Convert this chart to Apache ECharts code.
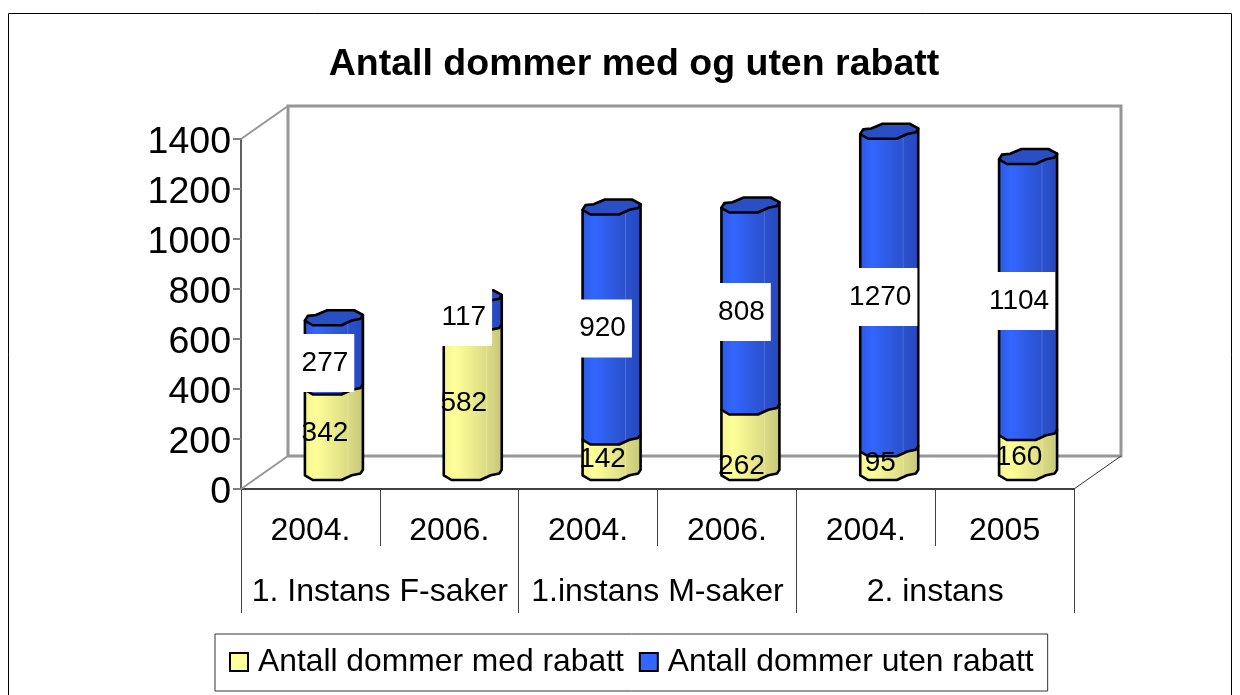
<!DOCTYPE html>
<html><head><meta charset="utf-8">
<style>html,body{margin:0;padding:0;background:#fff}#c{width:1240px;height:695px}</style>
<script src="https://cdn.jsdelivr.net/npm/echarts@6/dist/echarts.min.js"></script>
</head><body><div id="c"></div>
<script>
const years = ['2004.', '2006.', '2004.', '2006.', '2004.', '2005'];
const groups = ['1. Instans F-saker', '1.instans M-saker', '2. instans'];
const withDiscount = [342, 582, 142, 262, 95, 160];
const withoutDiscount = [277, 117, 920, 808, 1270, 1104];
const nameWith = 'Antall dommer med rabatt';
const nameWithout = 'Antall dommer uten rabatt';
const titleText = 'Antall dommer med og uten rabatt';

const FONT = '"Liberation Sans", Arial, sans-serif';
const DEPTH_X = 47, DEPTH_Y = -33;      // pseudo-3D depth of the chart box
const BAR_HALF_W = 29, BAR_HALF_H = 7.5;
const labelShift = {                     // pixel nudges of the data labels from the bar middle
  with: [-13, -13, -12, 10, -14, -12],
  without: [-6, -12, -10, -10.5, -9.5, -10]
};
const capShape = [[-1,.37],[-.9,-.25],[-.62,-.37],[-.23,-1],[.7,-1],[1,-.37],[.92,.12],[.62,.37],[.26,1],[-.73,1]];
const frontEdge = [[-1,.37],[-.73,1],[.26,1],[.62,.37],[.92,.12],[1,-.37]];

const G = echarts.graphic;
const yellowFill = new G.LinearGradient(0,0,1,0,[
  {offset:0,color:'#F2F28F'},{offset:.2,color:'#FFFF99'},{offset:.5,color:'#EBEB8D'},
  {offset:.75,color:'#DADA85'},{offset:1,color:'#C5C57A'}]);
const blueFill = new G.LinearGradient(0,0,1,0,[
  {offset:0,color:'#2C58DC'},{offset:.22,color:'#3366FF'},{offset:.55,color:'#2D58DC'},
  {offset:1,color:'#2647BC'}]);
const capColor = '#2A4EC4';

function cylinder(fill, lightLine, withCap) {
  return function (params, api) {
    const i = api.value(0);
    const a = api.coord([i, api.value(1)]);
    const b = api.coord([i, api.value(2)]);
    const cx = a[0] + DEPTH_X / 2, yBase = a[1] + DEPTH_Y / 2, yTop = b[1] + DEPTH_Y / 2;
    const P = (p, y) => [cx + p[0] * BAR_HALF_W, y + p[1] * BAR_HALF_H];
    const body = frontEdge.map(p => P(p, yBase));
    body.push(P([1, -.37], yTop), P([-1, .37], yTop));
    const kids = [
      {type:'polygon', shape:{points:body}, style:{fill:fill, stroke:'#000', lineWidth:2.6, lineJoin:'round'}},
      {type:'line', shape:{x1:cx+.48*BAR_HALF_W,y1:yTop+BAR_HALF_H*.5,x2:cx+.48*BAR_HALF_W,y2:yBase+BAR_HALF_H*.4},
       style:{stroke:lightLine, lineWidth:1, opacity:.6}}
    ];
    if (withCap) kids.push({type:'polygon', shape:{points:capShape.map(p => P(p, yTop))},
      style:{fill:capColor, stroke:'#000', lineWidth:2.6, lineJoin:'round'}});
    return {type:'group', children:kids};
  };
}
function wallItem(params, api) {
  const c = params.coordSys, x = c.x, y = c.y, w = c.width, h = c.height;
  const grey = {stroke:'#969696', lineWidth:3, fill:null};
  const L = (x1,y1,x2,y2,s) => ({type:'line', shape:{x1,y1,x2,y2}, style:s});
  return {type:'group', children:[
    {type:'polyline', shape:{points:[[x+DEPTH_X,y+h+DEPTH_Y],[x+DEPTH_X,y+DEPTH_Y],[x+w+DEPTH_X,y+DEPTH_Y],[x+w+DEPTH_X,y+h+DEPTH_Y],[x+DEPTH_X,y+h+DEPTH_Y]]}, style:grey},
    L(x,y,x+DEPTH_X,y+DEPTH_Y,{stroke:'#969696',lineWidth:2}),
    L(x,y+h,x+DEPTH_X,y+h+DEPTH_Y,{stroke:'#969696',lineWidth:2}),
    L(x+w,y+h,x+w+DEPTH_X,y+h+DEPTH_Y,{stroke:'#333',lineWidth:1})
  ]};
}
function labelItem(params, api) {
  const i = api.value(0);
  const a = api.coord([i, (api.value(1) + api.value(2)) / 2]);
  const boxed = api.value(3) === 1;
  const shift = (boxed ? labelShift.without : labelShift.with)[i];
  return {type:'text', x:a[0]+14.5, y:a[1]+shift, z2:100, style:{
    text:String(api.value(2)-api.value(1)), font:'28px '+FONT, fill:'#000',
    align:'center', verticalAlign:'middle',
    backgroundColor: boxed ? '#fff' : null,
    padding: boxed ? [15,6,15,6] : 0
  }};
}
const rowsWith = withDiscount.map((v,i)=>[i,0,v]);
const rowsWithout = withoutDiscount.map((v,i)=>[i,withDiscount[i],withDiscount[i]+v]);
const labelRows = rowsWith.map(r=>[...r,0]).concat(rowsWithout.map(r=>[...r,1]));
const chart = echarts.init(document.getElementById('c'), null, {renderer:'canvas'});
chart.setOption({
  animation:false,
  backgroundColor:'#fff',
  textStyle:{fontFamily:FONT},
  title:{text:titleText,left:629,top:41,textAlign:'center',
    textStyle:{fontFamily:FONT,fontWeight:'bold',fontSize:37.5,color:'#000'}},
  legend:{left:215,top:634,padding:[12,14,13,14],itemWidth:18,itemHeight:18,itemGap:15,
    borderColor:'#333',borderWidth:1,borderRadius:0,icon:'rect',
    data:[nameWith,nameWithout],
    itemStyle:{borderColor:'#000',borderWidth:2},
    textStyle:{fontFamily:FONT,fontSize:31.8,color:'#000',padding:[2,0,0,5]}},
  grid:{left:241,right:166,top:139,bottom:206,containLabel:false},
  xAxis:[
    {type:'category',data:years,position:'bottom',
     axisLine:{lineStyle:{color:'#404040',width:2}},
     axisTick:{show:true,length:57,lineStyle:{color:'#404040',width:1}},
     axisLabel:{color:'#000',fontSize:32,margin:26,fontFamily:FONT,interval:0}},
    {type:'category',data:groups,position:'bottom',
     axisLine:{show:false},
     axisTick:{show:true,length:124,lineStyle:{color:'#404040',width:1}},
     axisLabel:{color:'#000',fontSize:32,margin:87,fontFamily:FONT,interval:0}}
  ],
  yAxis:{type:'value',min:0,max:1400,interval:200,
    axisLine:{show:true,lineStyle:{color:'#606060',width:2}},
    axisTick:{show:true,length:8,lineStyle:{color:'#808080',width:2}},
    splitLine:{show:false},
    axisLabel:{color:'#000',fontSize:37.5,margin:10,fontFamily:FONT,verticalAlign:'top',lineHeight:8,formatter:v=>String(v)}},
  graphic:[{type:'rect',silent:true,z:-1,shape:{x:8.5,y:13.5,width:1223,height:720},
    style:{fill:null,stroke:'#000',lineWidth:1}}],
  series:[
    {type:'custom',name:'walls',z:1,silent:true,clip:false,renderItem:wallItem,data:[[0,0]],encode:{x:0,y:1},legendHoverLink:false},
    {type:'custom',name:nameWith,z:3,clip:false,renderItem:cylinder(yellowFill,'#F0F0A0',false),
     itemStyle:{color:'#FFFF99'},encode:{x:0,y:[1,2]},data:rowsWith},
    {type:'custom',name:nameWithout,z:4,clip:false,renderItem:cylinder(blueFill,'#5F82E6',true),
     itemStyle:{color:'#3366FF'},encode:{x:0,y:[1,2]},data:rowsWithout},
    {type:'custom',name:'labels',z:5,silent:true,clip:false,renderItem:labelItem,encode:{x:0,y:[1,2]},data:labelRows}
  ]
});
</script></body></html>
